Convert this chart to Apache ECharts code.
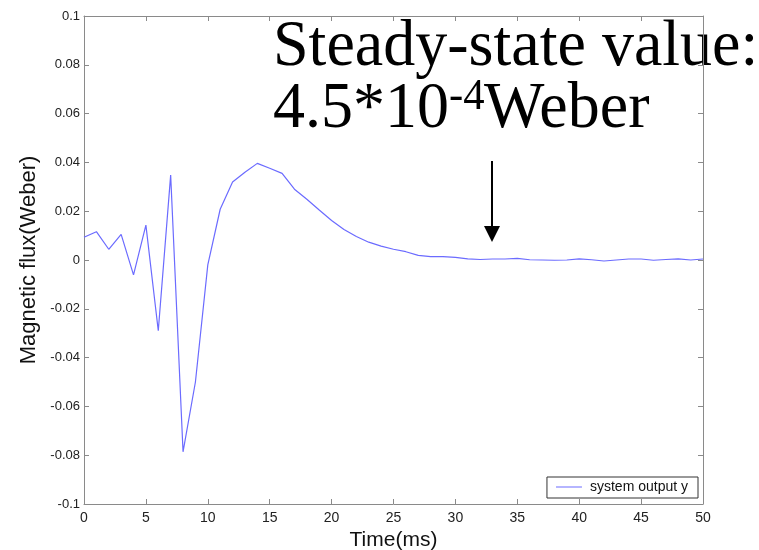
<!DOCTYPE html>
<html>
<head>
<meta charset="utf-8">
<script src="https://cdn.jsdelivr.net/npm/echarts@6/dist/echarts.min.js"></script>
<style>html,body{margin:0;padding:0;background:#fff}#c{width:759px;height:550px}</style>
</head>
<body>
<div id="c"></div>
<script>
const timeMs = [0,1,2,3,4,5,6,7,8,9,10,11,12,13,14,15,16,17,18,19,20,21,22,23,24,25,26,27,28,29,30,31,32,33,34,35,36,37,38,39,40,41,42,43,44,45,46,47,48,49,50];
const flux = [0.0093,0.0116,0.0044,0.0105,-0.0061,0.0143,-0.029,0.0348,-0.0786,-0.050,-0.002,0.0208,0.032,0.036,0.0396,0.0376,0.0355,0.029,0.0249,0.0205,0.0162,0.0125,0.0096,0.0073,0.0057,0.0044,0.0034,0.0019,0.0014,0.0014,0.0011,0.0005,0.0002,0.0004,0.0004,0.0007,0.0001,0,-0.0001,0,0.0005,0.0001,-0.0004,0,0.0004,0.0004,-0.0001,0.0002,0.0005,0,0.0004];
const seriesName = 'system output y';
const xTitle = 'Time(ms)';
const yTitle = 'Magnetic flux(Weber)';
const noteLine1 = 'Steady-state value:';
const noteMain = '4.5*10';
const noteSup = '-4';
const noteUnit = 'Weber';

const axisGray = '#8a8a8a';
const lbl = {color:'#222', fontFamily:'Liberation Sans, Arial', fontSize:13};
const chart = echarts.init(document.getElementById('c'), null, {renderer:'canvas'});
const serif = 'Liberation Serif, Times New Roman, serif';
chart.setOption({
  animation:false,
  backgroundColor:'#fff',
  grid:{left:84, top:16, width:619, height:488, containLabel:false, outerBoundsMode:'none'},
  legend:{
    data:[seriesName], right:61, top:477, orient:'horizontal',
    backgroundColor:'#fff', borderColor:'#333', borderWidth:1, borderRadius:0,
    padding:[3,10,4,9], icon:'rect', itemWidth:26, itemHeight:1,
    textStyle:{color:'#111', fontFamily:'Liberation Sans, Arial', fontSize:14, padding:[0,0,0,3]}
  },
  xAxis:[{
    type:'value', min:0, max:50, interval:5, position:'bottom',
    name:xTitle, nameLocation:'middle', nameGap:25,
    nameTextStyle:{color:'#111', fontFamily:'Liberation Sans, Arial', fontSize:21},
    axisLine:{show:true, onZero:false, lineStyle:{color:axisGray, width:1}},
    axisTick:{show:true, inside:true, length:5, lineStyle:{color:axisGray}},
    axisLabel:Object.assign({margin:7}, lbl, {fontSize:14}),
    splitLine:{show:false}
  },{
    type:'value', min:0, max:50, interval:5, position:'top',
    axisLine:{show:true, onZero:false, lineStyle:{color:axisGray, width:1}},
    axisTick:{show:true, inside:true, length:5, lineStyle:{color:axisGray}},
    axisLabel:{show:false}, splitLine:{show:false}
  }],
  yAxis:[{
    type:'value', min:-0.1, max:0.1, interval:0.02, position:'left',
    name:yTitle, nameLocation:'middle', nameGap:43, nameRotate:90,
    nameTextStyle:{color:'#111', fontFamily:'Liberation Sans, Arial', fontSize:22},
    axisLine:{show:true, onZero:false, lineStyle:{color:axisGray, width:1}},
    axisTick:{show:true, inside:true, length:5, lineStyle:{color:axisGray}},
    axisLabel:Object.assign({margin:4, formatter:v=>String(+v.toFixed(2))}, lbl),
    splitLine:{show:false}
  },{
    type:'value', min:-0.1, max:0.1, interval:0.02, position:'right',
    axisLine:{show:true, onZero:false, lineStyle:{color:axisGray, width:1}},
    axisTick:{show:true, inside:true, length:5, lineStyle:{color:axisGray}},
    axisLabel:{show:false}, splitLine:{show:false}
  }],
  series:[{
    name:seriesName, type:'line', xAxisIndex:0, yAxisIndex:0,
    data:timeMs.map((t,i)=>[t, flux[i]]),
    showSymbol:false, symbol:'none',
    lineStyle:{color:'#6b6bff', width:1.2}, itemStyle:{color:'#6b6bff'}
  }],
  graphic:[
    {type:'text', x:273, y:48, scaleX:0.97, style:{text:noteLine1, fontFamily:serif, fontSize:66, fill:'#000', align:'left', verticalAlign:'middle'}},
    {type:'text', x:273, y:110, scaleX:0.97, style:{text:noteMain, fontFamily:serif, fontSize:66, fill:'#000', align:'left', verticalAlign:'middle'}},
    {type:'text', x:449, y:97, scaleX:0.97, style:{text:noteSup, fontFamily:serif, fontSize:44, fill:'#000', align:'left', verticalAlign:'middle'}},
    {type:'text', x:484, y:110, scaleX:0.97, style:{text:noteUnit, fontFamily:serif, fontSize:66, fill:'#000', align:'left', verticalAlign:'middle'}},
    {type:'line', shape:{x1:492, y1:161, x2:492, y2:228}, style:{stroke:'#000', lineWidth:2}},
    {type:'polygon', shape:{points:[[484,226],[500,226],[492,242]]}, style:{fill:'#000'}}
  ]
});
</script>
</body>
</html>
